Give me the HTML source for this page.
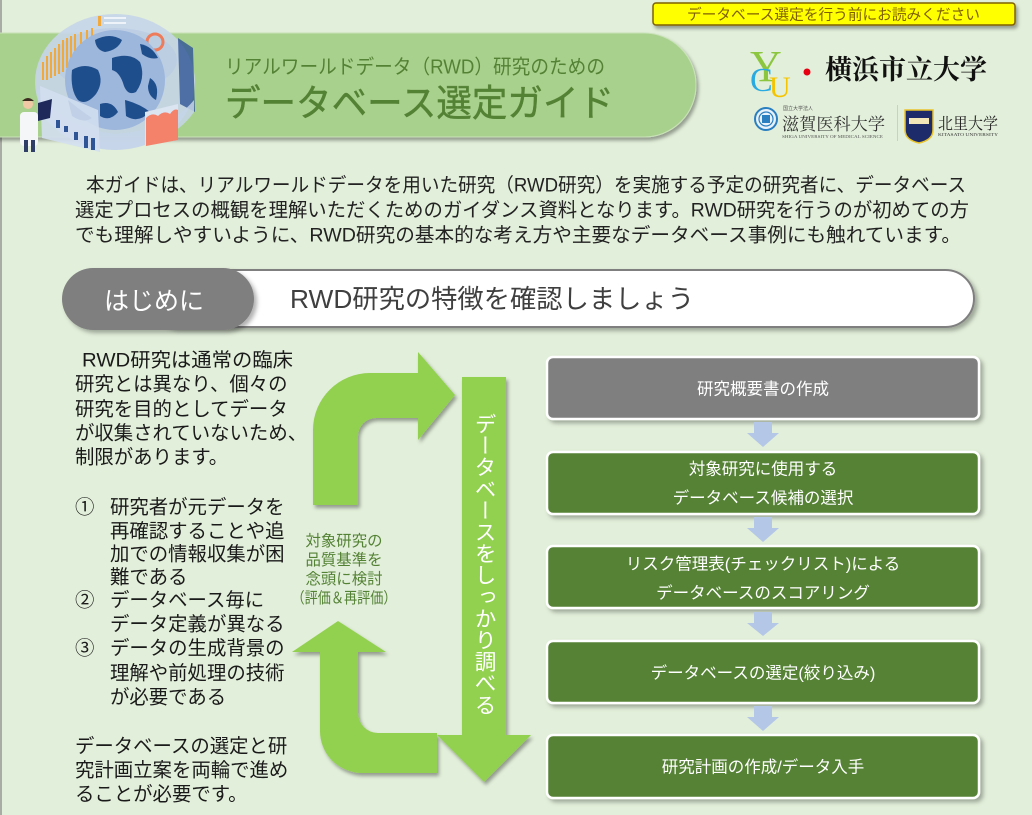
<!DOCTYPE html>
<html><head><meta charset="utf-8">
<style>
html,body{margin:0;padding:0;background:#e2efda;}
#wrap{position:relative;width:1032px;height:815px;overflow:hidden;background:#e2efda;font-family:"Liberation Sans","Noto Sans CJK JP",sans-serif;}
svg{position:absolute;left:0;top:0;}
.vt{position:absolute;left:462px;top:413px;width:44px;height:310px;writing-mode:vertical-rl;font-size:21.6px;line-height:44px;color:#fff;font-family:"Liberation Sans","Noto Sans CJK JP",sans-serif;white-space:nowrap;}
</style></head><body><div id="wrap">
<svg width="1032" height="815" viewBox="0 0 1032 815" font-family="'Liberation Sans','Noto Sans CJK JP',sans-serif">
<defs>
<filter id="sh" x="-10%" y="-10%" width="130%" height="140%"><feDropShadow dx="2" dy="3" stdDeviation="1.8" flood-color="#000" flood-opacity="0.35"/></filter>
<filter id="sh2" x="-10%" y="-10%" width="130%" height="140%"><feDropShadow dx="3" dy="3" stdDeviation="2" flood-color="#000" flood-opacity="0.3"/></filter>
</defs>

<rect x="0" y="0" width="2" height="815" fill="#a8aca4"/>

<rect x="653" y="3" width="362" height="22" rx="3" fill="#ffff00" stroke="#7f6000" stroke-width="1.5" filter="url(#sh)"/>
<text x="687" y="19.5" font-size="14.6" fill="#7f6000" textLength="293" lengthAdjust="spacingAndGlyphs">データベース選定を行う前にお読みください</text>

<rect x="-60" y="33" width="756" height="104" rx="52" fill="#a9d18e" stroke="#c9e2b8" stroke-width="1" filter="url(#sh)"/>
<text x="225" y="73.5" font-size="20" fill="#548235" textLength="380" lengthAdjust="spacingAndGlyphs">リアルワールドデータ（RWD）研究のための</text>
<text x="225" y="116" font-size="37" fill="#548235" stroke="#548235" stroke-width="0.45" textLength="389" lengthAdjust="spacingAndGlyphs">データベース選定ガイド</text>

<g>
  <ellipse cx="115" cy="82" rx="80" ry="68" fill="#c6d5e9" opacity="0.9"/>
  <ellipse cx="115" cy="60" rx="62" ry="32" fill="#b7c9e2" opacity="0.6"/>
  <g fill="#f2a93b">
    <rect x="42" y="62" width="2" height="18"/><rect x="46" y="56" width="2" height="24"/>
    <rect x="50" y="52" width="2" height="26"/><rect x="54" y="48" width="2" height="28"/>
    <rect x="58" y="44" width="2" height="30"/><rect x="62" y="40" width="2" height="32"/>
    <rect x="66" y="38" width="2" height="30"/><rect x="70" y="36" width="2" height="30"/>
    <rect x="74" y="34" width="2" height="28"/><rect x="80" y="32" width="2" height="26"/>
    <rect x="86" y="30" width="2" height="22"/><rect x="91" y="28" width="2" height="20"/>
  </g>
  <rect x="98" y="16" width="3" height="10" fill="#f2a93b"/>
  <rect x="104" y="17" width="22" height="2" fill="#eef3fa"/><rect x="104" y="22" width="22" height="2" fill="#eef3fa"/>
  <circle cx="155" cy="42" r="8" fill="none" stroke="#ee7b5a" stroke-width="3"/>
  <path d="M178 38 L193 48 L195 112 L180 104 Z" fill="#2f5597" opacity="0.8"/>
  <circle cx="115" cy="80" r="50" fill="#9db6dc"/>
  <path d="M95 40 Q110 32 122 40 Q118 50 105 52 Q96 50 95 40 Z" fill="#1f4e8c"/>
  <path d="M112 58 Q130 52 140 62 Q146 78 136 92 Q128 96 124 86 Q120 72 112 70 Z" fill="#1f4e8c"/>
  <path d="M72 70 Q85 62 98 70 Q104 82 96 94 Q86 106 78 100 Q70 90 72 70 Z" fill="#1f4e8c"/>
  <path d="M140 44 Q152 46 158 58 Q150 60 142 54 Z" fill="#1f4e8c"/>
  <path d="M100 104 Q112 100 118 112 Q110 122 100 116 Z" fill="#1f4e8c"/>
  <path d="M150 78 Q160 84 156 100 Q148 96 148 86 Z" fill="#1f4e8c"/>
  <path d="M68 100 Q80 110 92 118 Q84 124 72 116 Z" fill="#1f4e8c"/>
  <path d="M125 100 Q140 104 150 112 Q138 124 126 116 Z" fill="#1f4e8c"/>
  <path d="M38 88 Q60 128 115 134 Q170 130 194 100 L194 112 Q170 146 115 150 Q60 146 38 108 Z" fill="#c6d5e9" opacity="0.85"/>
  <path d="M40 86 L98 110 L100 152 L42 138 Z" fill="#d3dff0" opacity="0.9"/>
  <rect x="56" y="120" width="4" height="8" fill="#2f5597"/><rect x="64" y="126" width="4" height="6" fill="#2f5597"/>
  <rect x="74" y="132" width="4" height="8" fill="#2f5597"/><rect x="84" y="136" width="4" height="12" fill="#2f5597"/>
  <rect x="91" y="138" width="4" height="12" fill="#2f5597"/>
  <path d="M145 112 L178 104 L178 140 L145 146 Z" fill="#dbe4f1"/>
  <path d="M146 118 Q152 112 158 116 Q164 110 170 114 Q174 108 178 110 L178 140 L146 146 Z" fill="#f4826b"/>
  <rect x="20" y="112" width="18" height="34" rx="4" fill="#f4f6f8"/>
  <rect x="24" y="140" width="4" height="12" fill="#2f3e66"/><rect x="31" y="140" width="4" height="12" fill="#2f3e66"/>
  <circle cx="28" cy="104" r="5" fill="#f1c8a5"/>
  <path d="M22 101 Q28 95 34 101 Z" fill="#3b2a1e"/>
  <path d="M38 103 L52 99 L50 118 L38 121 Z" fill="#1f2a5a"/>
</g>

<text x="750" y="81" font-family="'Liberation Serif',serif" font-size="44" fill="#8cc63f">Y</text>
<text x="750" y="91" font-family="'Liberation Serif',serif" font-size="34" fill="#29abe2">C</text>
<text x="769" y="97" font-family="'Liberation Serif',serif" font-size="30" fill="#f5c400">U</text>
<circle cx="807" cy="72" r="3.5" fill="#e60012"/>
<text x="825" y="79" font-family="'Liberation Serif','Noto Serif CJK SC',serif" font-weight="bold" font-size="27" fill="#111" textLength="162" lengthAdjust="spacingAndGlyphs">横浜市立大学</text>

<circle cx="766" cy="119" r="11" fill="#e8f2fb" stroke="#2a7fc1" stroke-width="2"/>
<circle cx="766" cy="119" r="7" fill="none" stroke="#2a7fc1" stroke-width="1.2"/>
<rect x="762" y="115" width="8" height="8" fill="#2a7fc1"/>
<text x="783" y="110" font-size="5" fill="#555">国立大学法人</text>
<text x="782" y="130" font-family="'Liberation Serif','Noto Serif CJK SC',serif" font-size="17" fill="#333" textLength="103" lengthAdjust="spacingAndGlyphs">滋賀医科大学</text>
<text x="782" y="138" font-family="'Liberation Serif',serif" font-size="4.5" fill="#555" textLength="101" lengthAdjust="spacingAndGlyphs">SHIGA UNIVERSITY OF MEDICAL SCIENCE</text>
<rect x="897" y="105" width="1" height="36" fill="#c8d2c0"/>
<path d="M905 110 L933 110 L933 130 Q933 140 919 143 Q905 140 905 130 Z" fill="#1d2b6b" stroke="#e9c42a" stroke-width="1.5"/>
<rect x="909" y="118" width="20" height="6" fill="#f0e6b8"/>
<text x="938" y="129" font-family="'Liberation Serif','Noto Serif CJK SC',serif" font-size="16" fill="#222" textLength="60" lengthAdjust="spacingAndGlyphs">北里大学</text>
<text x="938" y="136" font-family="'Liberation Serif',serif" font-size="4.5" fill="#333" textLength="60" lengthAdjust="spacingAndGlyphs">KITASATO UNIVERSITY</text>

<g font-size="19.5" fill="#222">
<text x="86" y="191.4" textLength="880" lengthAdjust="spacingAndGlyphs">本ガイドは、リアルワールドデータを用いた研究（RWD研究）を実施する予定の研究者に、データベース</text>
<text x="75" y="216.4" textLength="894" lengthAdjust="spacingAndGlyphs">選定プロセスの概観を理解いただくためのガイダンス資料となります。RWD研究を行うのが初めての方</text>
<text x="75" y="241.4" textLength="886" lengthAdjust="spacingAndGlyphs">でも理解しやすいように、RWD研究の基本的な考え方や主要なデータベース事例にも触れています。</text>
</g>

<rect x="150" y="270" width="824" height="57" rx="28.5" fill="#ffffff" stroke="#7f7f7f" stroke-width="2" filter="url(#sh2)"/>
<rect x="62" y="268" width="192" height="62" rx="31" fill="#7f7f7f" filter="url(#sh2)"/>
<text x="104" y="309.5" font-size="25" fill="#ffffff" textLength="100" lengthAdjust="spacingAndGlyphs">はじめに</text>
<text x="290" y="308" font-size="26" fill="#3f3f3f" textLength="404" lengthAdjust="spacingAndGlyphs">RWD研究の特徴を確認しましょう</text>

<g font-size="19.4" fill="#1a1a1a">
<text x="82" y="366.4" textLength="211" lengthAdjust="spacingAndGlyphs">RWD研究は通常の臨床</text>
<text x="75" y="390.4">研究とは異なり、個々の</text>
<text x="75" y="415.4">研究を目的としてデータ</text>
<text x="75" y="439.4">が収集されていないため、</text>
<text x="75" y="463.4">制限があります。</text>
<text x="75" y="513.4">①</text><text x="110" y="513.4">研究者が元データを</text>
<text x="110" y="537.4">再確認することや追</text>
<text x="110" y="560.4">加での情報収集が困</text>
<text x="110" y="583.4">難である</text>
<text x="75" y="606.4">②</text><text x="110" y="606.4">データベース毎に</text>
<text x="110" y="630.4">データ定義が異なる</text>
<text x="75" y="654.4">③</text><text x="110" y="654.4">データの生成背景の</text>
<text x="110" y="679.4">理解や前処理の技術</text>
<text x="110" y="703.4">が必要である</text>
<text x="75" y="752.4">データベースの選定と研</text>
<text x="75" y="776.4">究計画立案を両輪で進め</text>
<text x="75" y="800.4">ることが必要です。</text>
</g>

<g fill="#92d050" filter="url(#sh)">
<path d="M313 505 L313 430 A57 57 0 0 1 370 373 L418 373 L418 352 L455 395 L418 440 L418 418 L376 418 A18 18 0 0 0 358 436 L358 505 Z"/>
<path d="M338 621 L386 652 L358 652 L358 713 A20 20 0 0 0 378 733 L437 733 L437 773 L362 773 A42 42 0 0 1 320 731 L320 652 L292 652 Z"/>
<path d="M462 377 L506 377 L506 735 L531 735 L484 782 L437 735 L462 735 Z"/>
</g>

<g font-size="15.4" fill="#548235" text-anchor="middle">
<text x="344" y="545.9">対象研究の</text>
<text x="344" y="564.9">品質基準を</text>
<text x="344" y="583.9">念頭に検討</text>
<text x="344" y="602.9" textLength="105" lengthAdjust="spacingAndGlyphs">（評価＆再評価）</text>
</g>

<g stroke="#ffffff" stroke-width="2.5" filter="url(#sh2)">
<rect x="547" y="357" width="432" height="62" rx="6" fill="#7f7f7f"/>
<rect x="547" y="452" width="432" height="62" rx="6" fill="#548235"/>
<rect x="547" y="546" width="432" height="62" rx="6" fill="#548235"/>
<rect x="547" y="641" width="432" height="62" rx="6" fill="#548235"/>
<rect x="547" y="735" width="432" height="63" rx="6" fill="#548235"/>
</g>
<g fill="#b4c7e7">
<path d="M754 422 L772 422 L772 433 L779 433 L763 447 L747 433 L754 433 Z"/>
<path d="M754 517 L772 517 L772 528 L779 528 L763 542 L747 528 L754 528 Z"/>
<path d="M754 612 L772 612 L772 623 L779 623 L763 636 L747 623 L754 623 Z"/>
<path d="M754 706 L772 706 L772 717 L779 717 L763 731 L747 717 L754 717 Z"/>
</g>
<g font-size="16.5" fill="#ffffff" text-anchor="middle">
<text x="763" y="394.3">研究概要書の作成</text>
<text x="763" y="474.3">対象研究に使用する</text>
<text x="763" y="503.3">データベース候補の選択</text>
<text x="763" y="569.3">リスク管理表(チェックリスト)による</text>
<text x="763" y="598.3">データベースのスコアリング</text>
<text x="763" y="678.3">データベースの選定(絞り込み)</text>
<text x="763" y="772.3">研究計画の作成/データ入手</text>
</g>
</svg>
<div class="vt">データベースをしっかり調べる</div>
</div></body></html>
